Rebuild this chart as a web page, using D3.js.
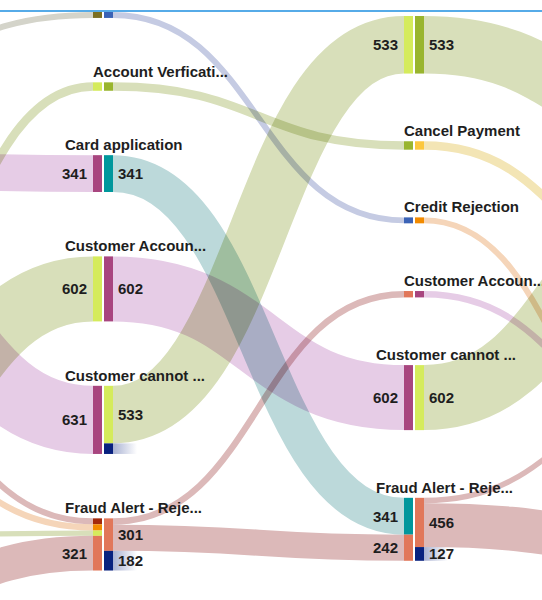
<!DOCTYPE html>
<html>
<head>
<meta charset="utf-8">
<script src="https://cdn.jsdelivr.net/npm/d3@7"></script>
<style>
  body { margin: 0; background: #fff; }
  svg { display: block; font-family: "Liberation Sans", Arial, sans-serif; }
  .name { font-size: 15px; font-weight: bold; fill: #1e1e1e; }
  .val { font-size: 15px; font-weight: bold; fill: #1e1e1e; }
</style>
</head>
<body>
<svg id="chart" width="542" height="600"></svg>
<script>
// activities per process step, top to bottom.
// steps -1 and 2 lie outside the visible panel, only their flows show
const firstStep = -1;
const stepNodes = [
  ["Address Check", "Customer Accoun...", "Card Blocked", "Credit Rejection", "Customer cannot ...", "Fraud Alert - Reje..."],
  ["Account Blocked", "Account Verficati...", "Card application", "Customer Accoun...", "Customer cannot ...", "Fraud Alert - Reje..."],
  ["Account Verficati...", "Cancel Payment", "Credit Rejection", "Customer Accoun...", "Customer cannot ...", "Fraud Alert - Reje..."],
  ["Account Verficati...", "Cancel Payment", "Customer Accoun...", "Customer cannot ...", "Fraud Alert - Reje..."]
];
const visibleSteps = [0, 1];

// [step of source, source activity, target activity (next step), cases]
const flows = [
  [-1, "Address Check", "Account Blocked", 55],
  [-1, "Customer cannot ...", "Account Verficati...", 78],
  [-1, "Customer Accoun...", "Card application", 341],
  [-1, "Customer cannot ...", "Customer Accoun...", 602],
  [-1, "Customer Accoun...", "Customer cannot ...", 631],
  [-1, "Card Blocked", "Fraud Alert - Reje...", 55],
  [-1, "Credit Rejection", "Fraud Alert - Reje...", 58],
  [-1, "Customer cannot ...", "Fraud Alert - Reje...", 49],
  [-1, "Fraud Alert - Reje...", "Fraud Alert - Reje...", 321],
  [0, "Account Blocked", "Credit Rejection", 55],
  [0, "Account Verficati...", "Cancel Payment", 78],
  [0, "Card application", "Fraud Alert - Reje...", 341],
  [0, "Customer Accoun...", "Customer cannot ...", 602],
  [0, "Customer cannot ...", "Account Verficati...", 533],
  [0, "Fraud Alert - Reje...", "Customer Accoun...", 59],
  [0, "Fraud Alert - Reje...", "Fraud Alert - Reje...", 242],
  [1, "Account Verficati...", "Account Verficati...", 533],
  [1, "Cancel Payment", "Cancel Payment", 78],
  [1, "Credit Rejection", "Fraud Alert - Reje...", 55],
  [1, "Customer Accoun...", "Customer cannot ...", 59],
  [1, "Customer cannot ...", "Account Verficati...", 602],
  [1, "Fraud Alert - Reje...", "Customer Accoun...", 50],
  [1, "Fraud Alert - Reje...", "Fraud Alert - Reje...", 406]
];

// cases that end after an activity
const exits = [
  [0, "Customer cannot ...", 98],
  [0, "Fraud Alert - Reje...", 182],
  [1, "Fraud Alert - Reje...", 127]
];

const activityColor = {
  "Address Check": "#7c6f22",
  "Account Blocked": "#3b63b6",
  "Account Verficati...": "#99b52e",
  "Card application": "#00979c",
  "Card Blocked": "#a3290c",
  "Cancel Payment": "#fcc73d",
  "Credit Rejection": "#f28b00",
  "Customer Accoun...": "#a8457f",
  "Customer cannot ...": "#d5eb5c",
  "Fraud Alert - Reje...": "#e1775a"
};
const flowColor = {
  "Address Check": "#d4d4ca",
  "Account Blocked": "#c5cbe3",
  "Account Verficati...": "#d8dfba",
  "Card application": "#bcd9da",
  "Card Blocked": "#dcb9b9",
  "Cancel Payment": "#f3e5b5",
  "Credit Rejection": "#f5d5b9",
  "Customer Accoun...": "#e6cce6",
  "Customer cannot ...": "#d8dfba",
  "Fraud Alert - Reje...": "#dcb9b9"
};
const exitColor = "#08217f";

// layout
const W = 542, H = 600, panelTop = 12;
const stepX = d3.scaleLinear().domain([0, 1]).range([103, 414]);
const thick = d3.scaleLinear().domain([0, 1000]).range([0, 108]);
const stepTop = new Map([[-1, 80], [0, 12], [1, 16], [2, 106]]);
const stepGap = new Map([[-1, 64.4], [0, 64.4], [1, 67.7], [2, 67.7]]);

const nodes = [];
const byKey = new Map();
stepNodes.forEach((names, i) => {
  const step = firstStep + i;
  names.forEach((name) => {
    const n = { step, name, ins: [], outs: [], exit: null };
    nodes.push(n);
    byKey.set(step + "|" + name, n);
  });
});

const links = flows.map(([step, from, to, value]) => {
  const l = { source: byKey.get(step + "|" + from), target: byKey.get(step + 1 + "|" + to), value };
  l.source.outs.push(l);
  l.target.ins.push(l);
  return l;
});
const exitLinks = exits.map(([step, name, value]) => {
  const l = { source: byKey.get(step + "|" + name), value };
  l.source.exit = l;
  return l;
});

// stack nodes in each step
d3.group(nodes, (d) => d.step).forEach((list, step) => {
  let y = stepTop.get(step);
  list.forEach((n) => {
    n.inSum = d3.sum(n.ins, (l) => l.value);
    n.flowSum = d3.sum(n.outs, (l) => l.value);
    n.exitSum = n.exit ? n.exit.value : 0;
    n.x = stepX(step);
    n.y0 = y;
    n.h = thick(Math.max(n.inSum, n.flowSum + n.exitSum));
    y += n.h + stepGap.get(step);
  });
});

// stack flow ends inside each node, ordered by the other end
nodes.forEach((n) => {
  let y = n.y0;
  n.outs.sort((a, b) => a.target.y0 - b.target.y0);
  n.outs.forEach((l) => {
    const w = thick(l.value);
    l.sy = y + w / 2;
    y += w;
  });
  n.outSegs = [];
  if (n.flowSum > 0) n.outSegs.push({ y: n.y0, h: thick(n.flowSum), value: n.flowSum, color: activityColor[n.name] });
  if (n.exit) {
    n.exit.y = y;
    n.outSegs.push({ y, h: thick(n.exitSum), value: n.exitSum, color: exitColor });
  }
  y = n.y0;
  n.ins.sort((a, b) => a.source.y0 - b.source.y0);
  n.inSegs = n.ins.map((l) => {
    const w = thick(l.value);
    l.ty = y + w / 2;
    const seg = { y, h: w, value: l.value, color: activityColor[l.source.name] };
    y += w;
    return seg;
  });
});

const svg = d3.select("#chart");
svg.append("rect").attr("width", W).attr("height", H).attr("fill", "#fff");

const defs = svg.append("defs");
defs.append("clipPath").attr("id", "panel")
  .append("rect").attr("x", 0).attr("y", panelTop).attr("width", W).attr("height", H - panelTop);
const grad = defs.append("linearGradient").attr("id", "exitFade");
grad.append("stop").attr("offset", "0%").attr("stop-color", exitColor).attr("stop-opacity", 0.35);
grad.append("stop").attr("offset", "100%").attr("stop-color", exitColor).attr("stop-opacity", 0);

const g = svg.append("g").attr("clip-path", "url(#panel)");
const flowG = g.append("g").style("isolation", "isolate");
flowG.append("rect").attr("width", W).attr("height", H).attr("fill", "#fff");

const linkPath = d3.linkHorizontal();
flowG.append("g")
  .selectAll("path")
  .data(links)
  .join("path")
  .attr("d", (d) => linkPath({ source: [d.source.x + 10, d.sy], target: [d.target.x - 10, d.ty] }))
  .attr("fill", "none")
  .attr("stroke", (d) => flowColor[d.source.name])
  .attr("stroke-width", (d) => thick(d.value))
  .style("mix-blend-mode", "multiply");

// fading tails for cases that stop here
flowG.append("g")
  .selectAll("rect")
  .data(exitLinks)
  .join("rect")
  .attr("x", (d) => d.source.x + 10)
  .attr("y", (d) => d.y)
  .attr("width", 24)
  .attr("height", (d) => thick(d.value))
  .attr("fill", "url(#exitFade)");

const nodeG = g.append("g")
  .selectAll("g")
  .data(nodes)
  .join("g");

nodeG.selectAll("rect.in")
  .data((d) => d.inSegs.map((s) => ({ ...s, x: d.x })))
  .join("rect")
  .attr("class", "in")
  .attr("x", (d) => d.x - 10)
  .attr("y", (d) => d.y)
  .attr("width", 9)
  .attr("height", (d) => d.h)
  .attr("fill", (d) => d.color);

nodeG.selectAll("rect.out")
  .data((d) => d.outSegs.map((s) => ({ ...s, x: d.x })))
  .join("rect")
  .attr("class", "out")
  .attr("x", (d) => d.x + 1)
  .attr("y", (d) => d.y)
  .attr("width", 9)
  .attr("height", (d) => d.h)
  .attr("fill", (d) => d.color);

// labels, only for the steps inside the panel
const minLabel = 12;
const labelG = g.append("g")
  .selectAll("g")
  .data(nodes.filter((d) => visibleSteps.includes(d.step) && d.y0 - 5 > panelTop + 8))
  .join("g");

labelG.append("text")
  .attr("class", "name")
  .attr("x", (d) => (d.h >= minLabel ? d.x - 38 : d.x - 10))
  .attr("y", (d) => d.y0 - 5)
  .text((d) => d.name);

g.append("g")
  .selectAll("text")
  .data(nodes.filter((d) => visibleSteps.includes(d.step)).flatMap((n) =>
    n.inSegs.filter((s) => s.h >= minLabel).map((s) => ({ ...s, x: n.x - 16, anchor: "end" }))
      .concat(n.outSegs.filter((s) => s.h >= minLabel).map((s) => ({ ...s, x: n.x + 15, anchor: "start" })))))
  .join("text")
  .attr("class", "val")
  .attr("text-anchor", (d) => d.anchor)
  .attr("x", (d) => d.x)
  .attr("y", (d) => d.y + d.h / 2)
  .attr("dy", "0.36em")
  .text((d) => d.value);

// panel border
svg.append("line")
  .attr("x1", 0).attr("x2", W)
  .attr("y1", 11).attr("y2", 11)
  .attr("stroke", "#1e8fe1")
  .attr("stroke-width", 1.5);
</script>
</body>
</html>
